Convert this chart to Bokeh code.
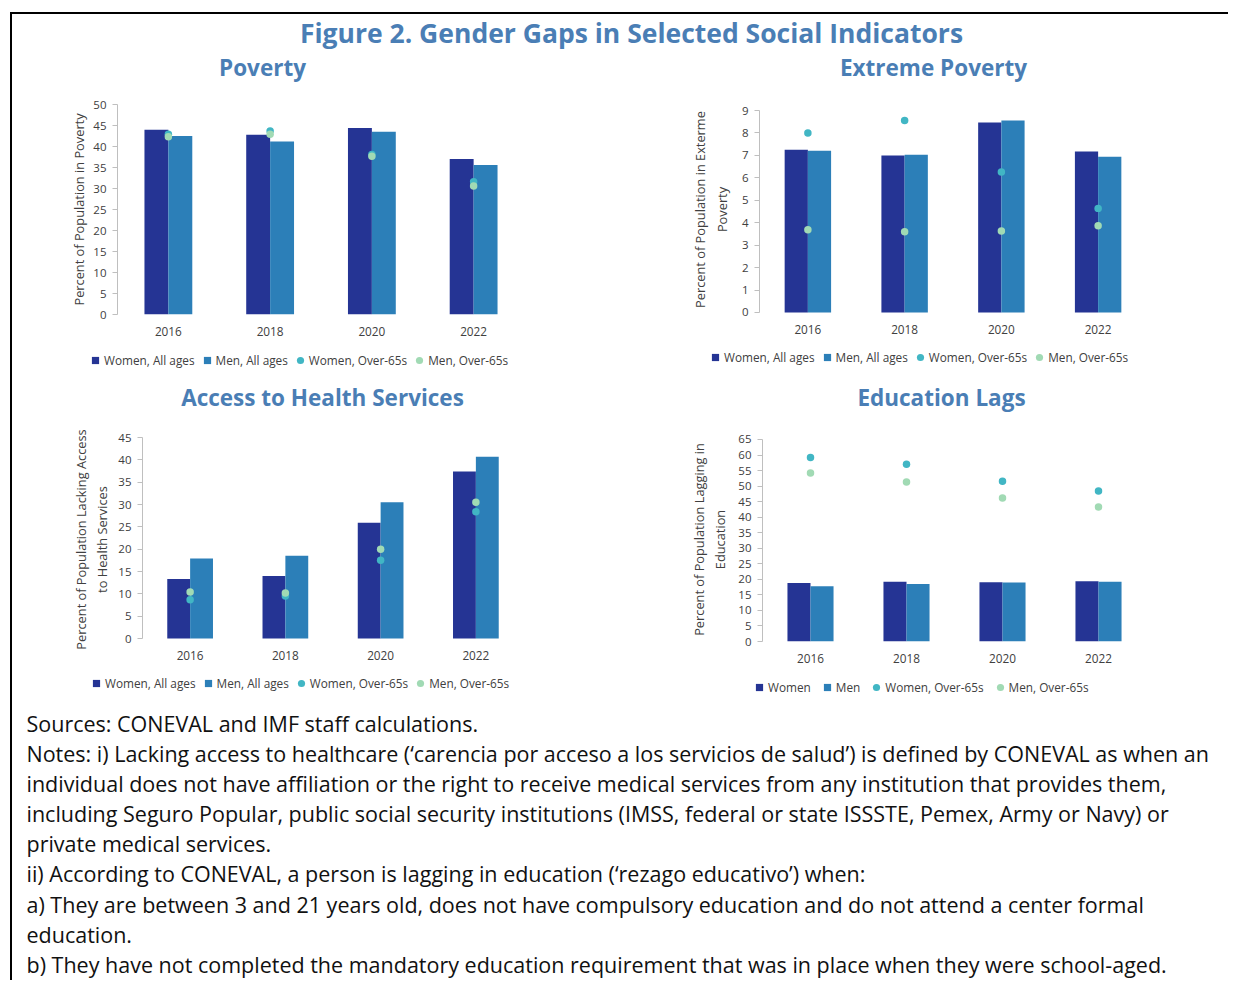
from bokeh.plotting import figure
from bokeh.layouts import column, row
from bokeh.models import (ColumnDataSource, Range1d, FactorRange, SingleIntervalTicker,
                          Legend, LegendItem, Label)
from bokeh.transform import dodge
from bokeh.embed import file_html
from bokeh.resources import INLINE

# ---------------- data ----------------
years = ["2016", "2018", "2020", "2022"]

pov_women = [44.0, 42.8, 44.4, 37.0]
pov_men = [42.5, 41.2, 43.5, 35.6]
pov_women65 = [42.9, 43.7, 38.1, 31.6]
pov_men65 = [42.3, 42.9, 37.7, 30.6]

ext_women = [7.25, 7.0, 8.47, 7.17]
ext_men = [7.21, 7.03, 8.56, 6.94]
ext_women65 = [8.0, 8.56, 6.26, 4.64]
ext_men65 = [3.69, 3.60, 3.63, 3.87]

health_women = [13.3, 14.0, 25.9, 37.4]
health_men = [17.9, 18.5, 30.5, 40.7]
health_women65 = [8.7, 9.5, 17.5, 28.4]
health_men65 = [10.4, 10.2, 20.0, 30.5]

edu_women = [18.8, 19.2, 19.1, 19.4]
edu_men = [17.8, 18.5, 19.0, 19.2]
edu_women65 = [59.2, 57.0, 51.6, 48.4]
edu_men65 = [54.2, 51.3, 46.2, 43.3]

labels_all = ["Women, All ages", "Men, All ages", "Women, Over-65s", "Men, Over-65s"]
labels_edu = ["Women", "Men", "Women, Over-65s", "Men, Over-65s"]

main_title = "Figure 2. Gender Gaps in Selected Social Indicators"
panel_titles = ["Poverty", "Extreme Poverty", "Access to Health Services", "Education Lags"]
notes_lines = [
    "Sources: CONEVAL and IMF staff calculations.",
    "Notes: i) Lacking access to healthcare (\u2018carencia por acceso a los servicios de salud\u2019) is defined by CONEVAL as when an",
    "individual does not have affiliation or the right to receive medical services from any institution that provides them,",
    "including Seguro Popular, public social security institutions (IMSS, federal or state ISSSTE, Pemex, Army or Navy) or",
    "private medical services.",
    "ii) According to CONEVAL, a person is lagging in education (\u2018rezago educativo\u2019) when:",
    "a) They are between 3 and 21 years old, does not have compulsory education and do not attend a center formal",
    "education.",
    "b) They have not completed the mandatory education requirement that was in place when they were school-aged.",
]

# ---------------- style ----------------
C_WOMEN = "#253494"
C_MEN = "#2c7fb8"
C_W65 = "#41b6c4"
C_M65 = "#a1dab4"
TITLE_BLUE = "#4a7eb5"
FONT = "Open Sans"
GREY = "#404040"
W = 1216


def canvas(w, h):
    p = figure(width=w, height=h, x_range=Range1d(0, w), y_range=Range1d(h, 0),
               min_border=0, toolbar_location=None, output_backend="svg",
               x_axis_type=None, y_axis_type=None, outline_line_color=None)
    p.grid.visible = False
    return p


def add_legend(p, labels, loc, spacing):
    rs = []
    for mk, col in [("square", C_WOMEN), ("square", C_MEN), ("circle", C_W65), ("circle", C_M65)]:
        # legend-only glyphs, placed outside the visible canvas
        rs.append(p.scatter(x=[-100], y=[-100], marker=mk, size=7, fill_color=col, line_color=None))
    leg = Legend(items=[LegendItem(label=l, renderers=[r]) for l, r in zip(labels, rs)],
                 location=loc, orientation="horizontal", glyph_width=18, glyph_height=18,
                 label_height=18, label_standoff=-2, spacing=spacing, padding=0, margin=0,
                 border_line_color=None, background_fill_alpha=0,
                 label_text_font=FONT, label_text_font_size="11.8px", label_text_color=GREY)
    p.add_layout(leg)


def chart(w, h, left, frame_w, top, bottom, y0, y1, ymax, step, ylabel,
          women, men, w65, m65, bar_w, label_standoff, x_standoff):
    p = figure(width=w, height=h, x_range=FactorRange(factors=years),
               y_range=Range1d(y0, y1), toolbar_location=None, output_backend="svg",
               min_border_left=left, min_border_top=top, min_border_bottom=bottom,
               min_border_right=w - left - frame_w, outline_line_color=None)
    p.grid.visible = False
    src = ColumnDataSource(dict(x=years, women=women, men=men, w65=w65, m65=m65))
    p.vbar(x=dodge("x", -bar_w / 2, range=p.x_range), top="women", width=bar_w,
           source=src, fill_color=C_WOMEN, line_color=None)
    p.vbar(x=dodge("x", bar_w / 2, range=p.x_range), top="men", width=bar_w,
           source=src, fill_color=C_MEN, line_color=None)
    p.scatter(x="x", y="w65", source=src, size=7.5, fill_color=C_W65, line_color=None)
    p.scatter(x="x", y="m65", source=src, size=7.5, fill_color=C_M65, line_color=None)

    p.yaxis.ticker = SingleIntervalTicker(interval=step)
    p.yaxis.bounds = (0, ymax)
    p.yaxis.axis_line_color = "#bfbfbf"
    p.yaxis.major_tick_line_color = "#bfbfbf"
    p.yaxis.major_tick_out = 5
    p.yaxis.major_tick_in = 0
    p.yaxis.minor_tick_line_color = None
    p.yaxis.major_label_text_font = FONT
    p.yaxis.major_label_text_font_size = "11.5px"
    p.yaxis.major_label_text_color = GREY
    p.yaxis.major_label_standoff = 6
    p.yaxis.axis_label = ylabel
    p.yaxis.axis_label_text_font = FONT
    p.yaxis.axis_label_text_font_size = "12.8px"
    p.yaxis.axis_label_text_font_style = "normal"
    p.yaxis.axis_label_text_color = GREY
    p.yaxis.axis_label_standoff = label_standoff

    p.xaxis.axis_line_color = None
    p.xaxis.major_tick_line_color = None
    p.xaxis.major_label_text_font = FONT
    p.xaxis.major_label_text_font_size = "11.8px"
    p.xaxis.major_label_text_color = GREY
    p.xaxis.major_label_standoff = x_standoff
    return p


# row 1 charts (page y 88..345), shared frame y 104..314
c1 = chart(608, 257, 105, 407, 16, 31, 0, 50, 50, 5, "Percent of Population in Poverty",
           pov_women, pov_men, pov_women65, pov_men65, 0.235, 2, 6)
c2 = chart(608, 257, 139, 387, 16, 31, -0.09, 9.27, 9, 1, "Percent of Population in Exterme\nPoverty",
           ext_women, ext_men, ext_women65, ext_men65, 0.24, 8, 4)
# row 2 charts (page y 416..672), shared frame y 437..641
c3 = chart(608, 256, 130, 381, 21, 31, -0.67, 45, 45, 5, "Percent of Population Lacking Access\nto Health Services",
           health_women, health_men, health_women65, health_men65, 0.24, 4, 3)
c4 = chart(608, 256, 142, 384, 21, 31, 0, 65.64, 65, 5, "Percent of Population Lagging in\nEducation",
           edu_women, edu_men, edu_women65, edu_men65, 0.24, 6, 6)


def title_label(p, x, y, text, size):
    p.add_layout(Label(x=x, y=y, text=text, text_font=FONT, text_font_size=size,
                       text_font_style="bold", text_color=TITLE_BLUE, text_align="center",
                       text_baseline="middle"))


# header 1 (page y 14..88)
h1 = canvas(W, 74)
title_label(h1, 619, 18, main_title, "26.5px")
title_label(h1, 250, 53, panel_titles[0], "22.5px")
title_label(h1, 921, 53, panel_titles[1], "22.5px")

# legends row 1 + header 2 (page y 345..416)
h2 = canvas(W, 71)
add_legend(h2, labels_all, (74, 47), 3)
add_legend(h2, labels_all, (694, 50), 3)
title_label(h2, 310, 52, panel_titles[2], "22.5px")
title_label(h2, 929, 52, panel_titles[3], "22.5px")

# legends row 2 + notes (page y 672..980)
nt = canvas(W, 308)
add_legend(nt, labels_all, (75, 288), 3)
add_legend(nt, labels_edu, (738, 284), 7)
line_y = [51, 81, 111, 141, 171, 201, 232, 262, 292]
for ly, txt in zip(line_y, notes_lines):
    nt.add_layout(Label(x=14, y=ly, text=txt, text_font=FONT, text_font_size="21.5px",
                        text_color="#111111", text_align="left", text_baseline="middle"))

layout = column(h1, row(c1, c2), h2, row(c3, c4), nt, margin=(12, 0, 0, 10),
                styles={"border-top": "2px solid black", "border-left": "2px solid black"})

open("out.html", "w").write(file_html(layout, INLINE))
